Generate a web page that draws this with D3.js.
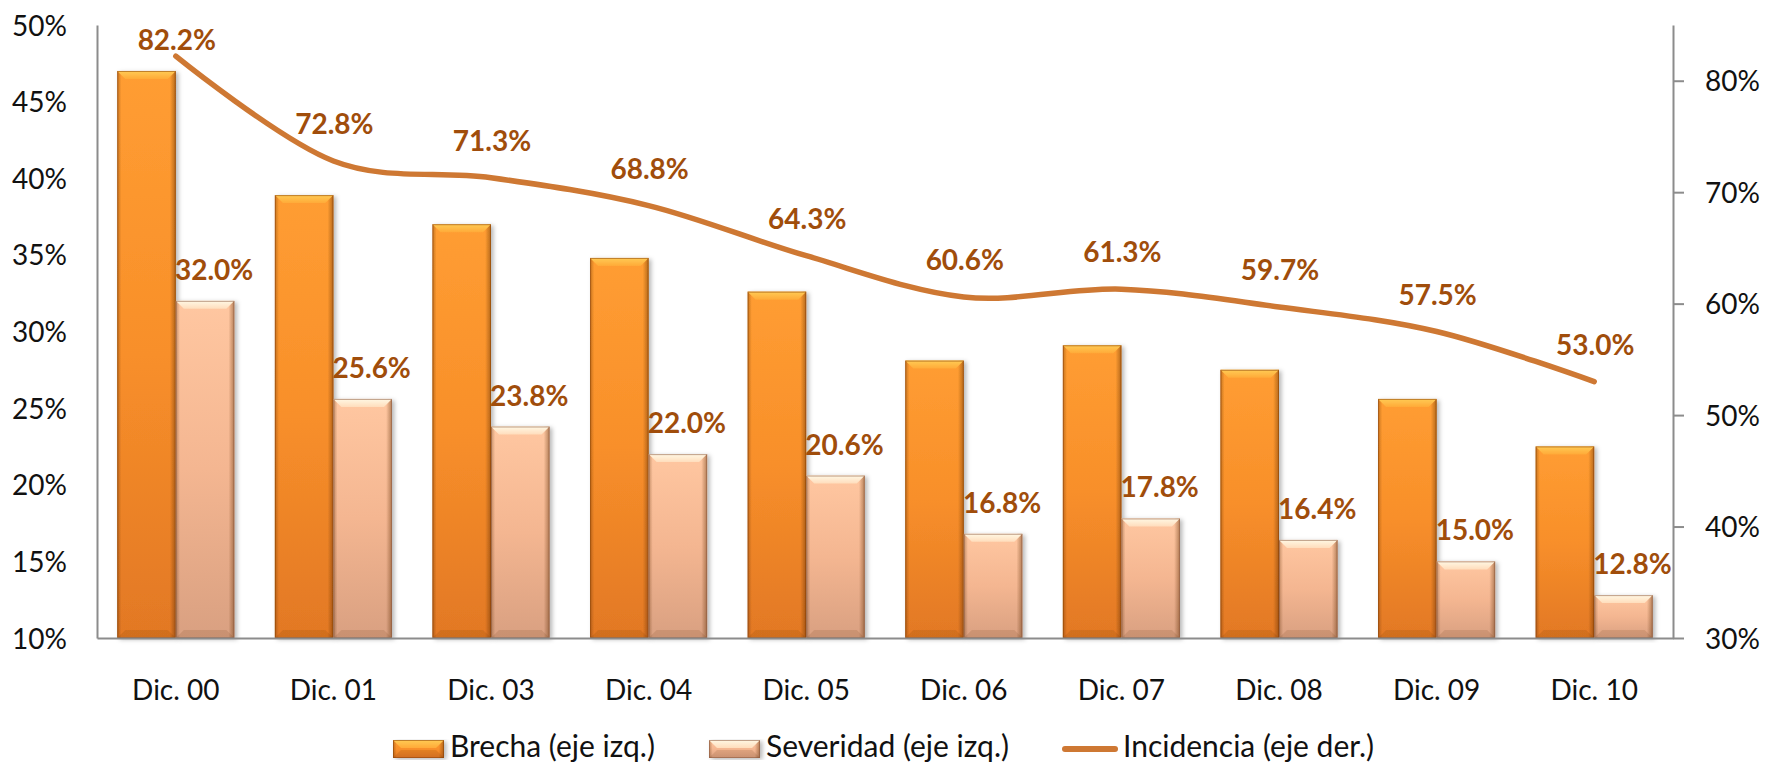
<!DOCTYPE html>
<html><head><meta charset="utf-8">
<script src="https://cdn.jsdelivr.net/npm/d3@7"></script>
<style>html,body{margin:0;padding:0;background:#fff}svg{display:block}</style>
</head><body><svg id="c" width="1766" height="764"></svg>
<script>
const categories = ["Dic. 00","Dic. 01","Dic. 03","Dic. 04","Dic. 05","Dic. 06","Dic. 07","Dic. 08","Dic. 09","Dic. 10"];
const brecha = [47.0, 38.9, 37.0, 34.8, 32.6, 28.1, 29.1, 27.5, 25.6, 22.5];
const severidad = [32.0, 25.6, 23.8, 22.0, 20.6, 16.8, 17.8, 16.4, 15.0, 12.8];
const incidencia = [82.2, 72.8, 71.3, 68.8, 64.3, 60.6, 61.3, 59.7, 57.5, 53.0];
const leftTicks = [10, 15, 20, 25, 30, 35, 40, 45, 50];
const rightTicks = [30, 40, 50, 60, 70, 80];
const seriesNames = ["Brecha (eje izq.)", "Severidad (eje izq.)", "Incidencia (eje der.)"];

const W = 1766, H = 764;
const m = {left: 97, right: 1673, top: 25, bottom: 638};
const FONT = "Lato, 'Open Sans', sans-serif";
const labelColor = "#A04D0B";
const lineColor = "#CE7833";
const svg = d3.select("#c");
svg.append("rect").attr("width", W).attr("height", H).attr("fill", "#fff");

const defs = svg.append("defs");
const f = defs.append("filter").attr("id","sh").attr("x","-20%").attr("y","-5%").attr("width","150%").attr("height","115%");
f.append("feDropShadow").attr("dx",2.5).attr("dy",1.5).attr("stdDeviation",2).attr("flood-color","#000").attr("flood-opacity",0.28);

function grad(id, stops, vertical=true){
  const g = defs.append("linearGradient").attr("id", id)
    .attr("x1",0).attr("y1",0).attr("x2",vertical?0:1).attr("y2",vertical?1:0);
  stops.forEach(s => g.append("stop").attr("offset", s[0]).attr("stop-color", s[1]).attr("stop-opacity", s[2]===undefined?1:s[2]));
}
const pal = {
  b: {body:[[0,"#FF9D32"],[0.5,"#F88F2A"],[1,"#E27824"]], top:[[0,"#FFCB55"],[1,"#FFAA38"]], edge:"#8A4208"},
  s: {body:[[0,"#FFC7A1"],[0.5,"#F4B691"],[1,"#D9A081"]], top:[[0,"#FFF8E4"],[1,"#FFDDBC"]], edge:"#8C5A40"}
};
Object.entries(pal).forEach(([k,p])=>{
  grad("body"+k, p.body);
  grad("top"+k, p.top);
});
grad("sides", [[0,"#5a2a00",0.35],[0.07,"#5a2a00",0.0],[0.9,"#5a2a00",0.0],[1,"#5a2a00",0.45]], false);

const x0 = d3.scaleBand().domain(categories).range([m.left, m.right]).paddingInner(0.257).paddingOuter(0.1285);
const x1 = d3.scaleBand().domain(["b","s"]).range([0, x0.bandwidth()]).padding(0);
const yL = d3.scaleLinear().domain([10, 50]).range([m.bottom, m.top]);
const yR = d3.scaleLinear().domain([30, 85]).range([m.bottom, m.top]);

function drawBar(g, x, y, w, h, k){
  const p = pal[k];
  const b = Math.min(8, h/2);
  const gg = g.append("g").attr("filter","url(#sh)");
  gg.append("rect").attr("x",x).attr("y",y).attr("width",w).attr("height",h).attr("fill","url(#body"+k+")");
  gg.append("rect").attr("x",x).attr("y",y).attr("width",w).attr("height",h).attr("fill","url(#sides)");
  gg.append("path").attr("d",`M${x},${y}L${x+w},${y}L${x+w-b},${y+b}L${x+b},${y+b}Z`).attr("fill","url(#top"+k+")");
  gg.append("path").attr("d",`M${x},${y+h}L${x+b},${y+h-b}L${x+w-b},${y+h-b}L${x+w},${y+h}Z`).attr("fill","#5a2a00").attr("opacity",0.12);
  gg.append("rect").attr("x",x+0.5).attr("y",y+0.5).attr("width",w-1).attr("height",h-1).attr("fill","none").attr("stroke",p.edge).attr("stroke-opacity",0.55).attr("stroke-width",1);
}

// bars
const gBars = svg.append("g");
categories.forEach((c,i)=>{
  const xb = x0(c) + x1("b"), xs = x0(c) + x1("s"), bw = x1.bandwidth();
  drawBar(gBars, xb, yL(brecha[i]), bw, yL(10)-yL(brecha[i]), "b");
  drawBar(gBars, xs, yL(severidad[i]), bw, yL(10)-yL(severidad[i]), "s");
});

// axes
const axisColor = "#8C8C8C";
const fmt0 = v => v + "%";
const aL = svg.append("g").attr("transform",`translate(${m.left},0)`)
  .call(d3.axisLeft(yL).tickValues(leftTicks).tickFormat(fmt0).tickSize(0).tickPadding(30));
const aR = svg.append("g").attr("transform",`translate(${m.right},0)`)
  .call(d3.axisRight(yR).tickValues(rightTicks).tickFormat(fmt0).tickSizeInner(11).tickSizeOuter(0).tickPadding(21));
[aL,aR].forEach(a=>{
  a.select(".domain").attr("stroke",axisColor).attr("stroke-width",2);
  a.selectAll(".tick line").attr("stroke",axisColor).attr("stroke-width",2);
  a.selectAll("text").attr("font-family",FONT).attr("font-size",28).attr("fill","#111").attr("dy","0.36em");
});
const aB = svg.append("g").attr("transform",`translate(0,${m.bottom})`)
  .call(d3.axisBottom(x0).tickSize(0).tickSizeOuter(0));
aB.select(".domain").attr("stroke",axisColor).attr("stroke-width",2);
aB.selectAll("text").attr("font-family",FONT).attr("font-size",28).attr("fill","#111").attr("y",62).attr("dy","0");

// line
const pts = categories.map((c,i)=>[x0(c)+x0.bandwidth()/2, yR(incidencia[i])]);
svg.append("path").attr("d", d3.line().curve(d3.curveCardinal.tension(0))(pts))
  .attr("fill","none").attr("stroke",lineColor).attr("stroke-width",5.5).attr("stroke-linecap","round");

// labels
const fmt1 = d3.format(".1f");
svg.append("g").selectAll("text").data(categories).join("text")
  .attr("x",(c,i)=>pts[i][0]+1)
  .attr("y",(c,i)=>Math.max(pts[i][1]-27, m.top+25))
  .attr("text-anchor","middle").attr("font-family",FONT).attr("font-weight","bold").attr("font-size",28)
  .attr("fill",labelColor).text((c,i)=>fmt1(incidencia[i])+"%");
svg.append("g").selectAll("text").data(categories).join("text")
  .attr("x",(c)=>x0(c)+x1("s")+x1.bandwidth()/2+9)
  .attr("y",(c,i)=>yL(severidad[i])-21)
  .attr("text-anchor","middle").attr("font-family",FONT).attr("font-weight","bold").attr("font-size",28)
  .attr("fill",labelColor).text((c,i)=>fmt1(severidad[i])+"%");

// legend
const lg = svg.append("g");
const legX = [393, 709, 1062];
drawBar(lg, legX[0], 740, 51, 18, "b");
drawBar(lg, legX[1], 740, 51, 18, "s");
lg.append("line").attr("x1",legX[2]+3).attr("x2",legX[2]+53).attr("y1",749).attr("y2",749)
  .attr("stroke",lineColor).attr("stroke-width",6).attr("stroke-linecap","round");
seriesNames.forEach((n,i)=>{
  lg.append("text").attr("x",legX[i]+(i==2?61:57)).attr("y",757).attr("font-family",FONT).attr("font-size",30)
    .attr("fill","#111").text(n);
});
</script></body></html>
